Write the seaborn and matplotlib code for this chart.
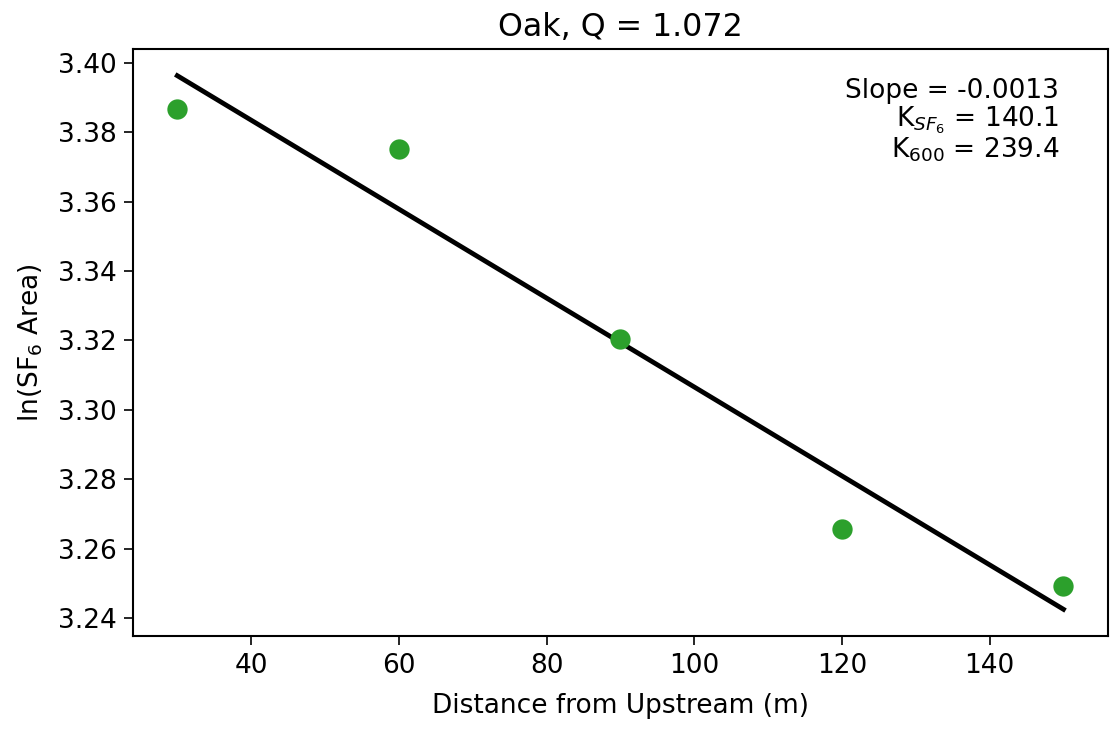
import numpy as np
import pandas as pd
import seaborn as sns
import matplotlib
matplotlib.use("Agg")
import matplotlib.pyplot as plt

# sampling distances and log peak areas
distance = [30, 60, 90, 120, 150]
ln_area = [3.3866, 3.3752, 3.3203, 3.2657, 3.2491]

site = "Oak"
discharge = 1.072
k_sf6 = 140.1
k_600 = 239.4

df = pd.DataFrame({"distance": distance, "ln_area": ln_area})
slope = np.polyfit(df["distance"], df["ln_area"], 1)[0]

plt.rcParams["font.family"] = ["DejaVu Sans"]
plt.rcParams["font.size"] = 12.7
plt.rcParams["xtick.major.size"] = 4.5
plt.rcParams["ytick.major.size"] = 4.5
plt.rcParams["axes.linewidth"] = 1.0
fig, ax = plt.subplots(figsize=(7.4, 4.86), dpi=150)
fig.subplots_adjust(left=0.1198, right=0.998, top=0.9328, bottom=0.1276)

sns.regplot(data=df, x="distance", y="ln_area", ax=ax, scatter=False, ci=None,
            color="black", line_kws={"lw": 2.3})
sns.scatterplot(data=df, x="distance", y="ln_area", ax=ax, color="#2ca02c",
                s=95, linewidth=0, zorder=3)

ax.text(0.95, 0.95,
        f"Slope = {slope:.4f}\nK$_{{SF_6}}$ = {k_sf6:.1f}\nK$_{{600}}$ = {k_600:.1f}",
        transform=ax.transAxes, ha="right", va="top", fontsize=12.7,
        linespacing=1.0)

ax.set_title(f"{site}, Q = {discharge:.3f}", fontsize=15.2)
ax.set_xlabel("Distance from Upstream (m)", labelpad=7)
ax.set_ylabel("ln(SF$_6$ Area)", labelpad=6)

fig.savefig("out.png", dpi=150)
